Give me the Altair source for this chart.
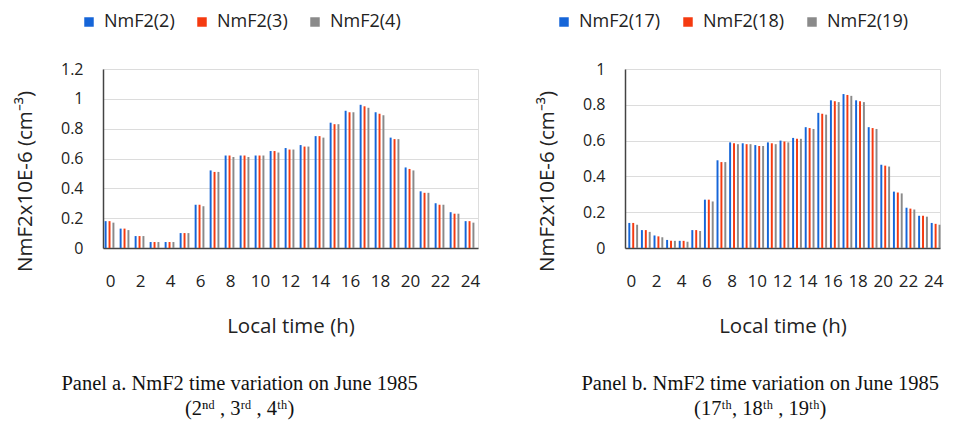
import altair as alt
import pandas as pd

hours = list(range(25))

# Panel a: June 2, 3, 4 1985
a_names = ["NmF2(2)", "NmF2(3)", "NmF2(4)"]
a_s2 = [0.18, 0.13, 0.08, 0.04, 0.04, 0.10, 0.29, 0.52, 0.62, 0.62, 0.62, 0.65, 0.67,
        0.69, 0.75, 0.84, 0.92, 0.96, 0.91, 0.74, 0.54, 0.38, 0.30, 0.24, 0.18]
a_s3 = [0.18, 0.13, 0.08, 0.04, 0.04, 0.10, 0.29, 0.51, 0.62, 0.62, 0.62, 0.65, 0.66,
        0.68, 0.75, 0.83, 0.91, 0.95, 0.90, 0.73, 0.53, 0.37, 0.29, 0.23, 0.18]
a_s4 = [0.17, 0.12, 0.08, 0.04, 0.04, 0.10, 0.28, 0.51, 0.61, 0.61, 0.62, 0.64, 0.66,
        0.68, 0.74, 0.83, 0.91, 0.94, 0.89, 0.73, 0.52, 0.37, 0.29, 0.23, 0.17]

# Panel b: June 17, 18, 19 1985
b_names = ["NmF2(17)", "NmF2(18)", "NmF2(19)"]
b_s17 = [0.14, 0.10, 0.07, 0.045, 0.04, 0.10, 0.27, 0.49, 0.59, 0.585, 0.575, 0.59, 0.60,
         0.615, 0.675, 0.755, 0.825, 0.86, 0.825, 0.675, 0.465, 0.315, 0.225, 0.18, 0.14]
b_s18 = [0.14, 0.10, 0.065, 0.04, 0.04, 0.10, 0.27, 0.48, 0.585, 0.58, 0.57, 0.585, 0.595,
         0.61, 0.67, 0.75, 0.82, 0.855, 0.82, 0.67, 0.46, 0.31, 0.22, 0.18, 0.135]
b_s19 = [0.13, 0.09, 0.06, 0.04, 0.035, 0.095, 0.26, 0.48, 0.58, 0.58, 0.57, 0.58, 0.59,
         0.61, 0.665, 0.745, 0.815, 0.85, 0.815, 0.665, 0.455, 0.305, 0.215, 0.175, 0.13]

colors = ["#1565D8", "#F53A10", "#8A8A8A"]
even_hours = list(range(0, 25, 2))

y_title = "NmF2x10E-6 (cm⁻³)"
x_title = "Local time (h)"
cap_a = ["Panel a. NmF2 time variation on June 1985", "(2ⁿᵈ , 3ʳᵈ , 4ᵗʰ)"]
cap_b = ["Panel b. NmF2 time variation on June 1985", "(17ᵗʰ, 18ᵗʰ , 19ᵗʰ)"]

FONT = "Open Sans"


def make_df(names, series):
    rows = []
    for name, vals in zip(names, series):
        for h, v in zip(hours, vals):
            rows.append({"hour": h, "series": name, "value": v})
    return pd.DataFrame(rows)


def panel(df, names, ymax, width, caption, legend_x, col_pad, cap_dx):
    return alt.Chart(df).mark_bar().encode(
        x=alt.X("hour:O",
                scale=alt.Scale(paddingInner=0.22, paddingOuter=0.11),
                axis=alt.Axis(values=even_hours, labelAngle=0, ticks=False,
                              labelPadding=25, title=x_title, titlePadding=27,
                              domainColor="#444444", domainWidth=1.5,
                              labelFont=FONT, labelFontSize=17, labelColor="#222222",
                              titleFont=FONT, titleFontSize=20.5, titleFontWeight="normal",
                              titleColor="#222222")),
        xOffset=alt.XOffset("series:N", sort=names),
        y=alt.Y("value:Q",
                scale=alt.Scale(domain=[0, ymax], nice=False),
                axis=alt.Axis(tickCount=int(round(ymax / 0.2)), format="~g", ticks=False,
                              title=y_title, titlePadding=25, labelPadding=20, titleY=112,
                              domainColor="#444444", domainWidth=1.5,
                              gridColor="#dcdcdc",
                              labelFont=FONT, labelFontSize=16, labelColor="#222222",
                              titleFont=FONT, titleFontSize=20.5, titleFontWeight="normal",
                              titleColor="#222222")),
        color=alt.Color("series:N", sort=names,
                        scale=alt.Scale(domain=names, range=colors),
                        legend=alt.Legend(title=None, orient="none", direction="horizontal",
                                          legendX=legend_x, legendY=-56,
                                          symbolType="square", symbolSize=90,
                                          symbolStrokeWidth=0, columnPadding=col_pad,
                                          labelOffset=6,
                                          labelFont=FONT, labelFontSize=18,
                                          labelColor="#222222")),
    ).properties(
        width=width, height=179,
        title=alt.TitleParams(text=caption, orient="bottom", anchor="middle",
                              frame="bounds", font="Liberation Serif", fontSize=20.5,
                              fontWeight="normal", color="#111111", offset=37,
                              lineHeight=25, dx=cap_dx)
    )


pa = panel(make_df(a_names, [a_s2, a_s3, a_s4]), a_names, 1.2, 375, cap_a, -23, 18, -8)
pb = panel(make_df(b_names, [b_s17, b_s18, b_s19]), b_names, 1.0, 315, cap_b, -70, 19, 20)

chart = alt.hconcat(pa, pb, spacing=56).resolve_scale(
    color="independent", y="independent", x="independent"
).resolve_legend(color="independent").properties(
    padding={"left": 15, "top": 12, "right": 5, "bottom": 5}
).configure_view(stroke=None).configure(background="white")

chart.save("out.html", embed_options={"renderer": "svg", "actions": False})
